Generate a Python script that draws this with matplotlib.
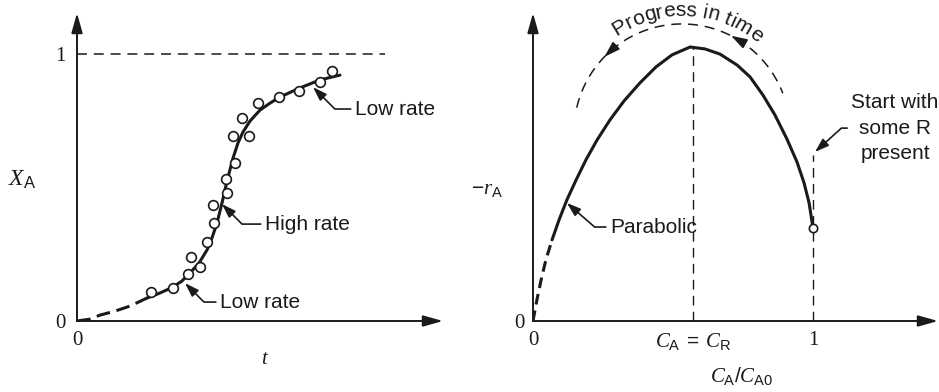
import numpy as np
import matplotlib
matplotlib.use("Agg")
import matplotlib.pyplot as plt

plt.rcParams['font.family'] = ['Liberation Sans', 'DejaVu Sans']
plt.rcParams['mathtext.fontset'] = 'custom'
plt.rcParams['mathtext.rm'] = 'Liberation Sans'
plt.rcParams['mathtext.it'] = 'Liberation Serif:italic'
plt.rcParams['mathtext.bf'] = 'Liberation Sans:bold'

INK = '#1a1a1a'
FS = 15

# ---------------- data (left panel: X_A vs t) ----------------
curve_t = [0, 0.426, 0.754, 1.246, 1.738, 2.295, 2.721, 3.148, 3.443, 3.705, 4.0,
           4.262, 4.426, 4.590, 4.754, 4.918, 5.115, 5.279, 5.443, 5.672, 6.0,
           6.328, 6.656, 7.311, 7.967, 8.623]
curve_x = [0, 0.007, 0.022, 0.037, 0.056, 0.086, 0.105, 0.127, 0.150, 0.180, 0.217,
           0.266, 0.311, 0.367, 0.442, 0.524, 0.610, 0.667, 0.708, 0.749, 0.790,
           0.816, 0.839, 0.873, 0.903, 0.921]
left_dashed_end = 6          # first points drawn dashed

pts_t = [2.426, 3.148, 3.639, 3.738, 4.033, 4.262, 4.492, 4.459, 4.918, 4.885,
         5.180, 5.115, 5.639, 5.410, 5.934, 6.623, 7.279, 7.967, 8.361]
pts_x = [0.109, 0.124, 0.176, 0.240, 0.202, 0.296, 0.367, 0.434, 0.479, 0.532,
         0.592, 0.693, 0.693, 0.760, 0.816, 0.839, 0.861, 0.895, 0.936]

left_xticks = [0]
left_xticklabels = ['0']
left_yticks = [0, 1]
left_yticklabels = ['0', '1']

# ---------------- data (right panel: -r_A vs C_A/C_A0) ----------------
rate_c = [0, 0.014, 0.029, 0.046, 0.068, 0.093, 0.121, 0.154, 0.189, 0.229, 0.275,
          0.325, 0.382, 0.439, 0.496, 0.561, 0.614, 0.668, 0.729, 0.775, 0.821,
          0.864, 0.907, 0.943, 0.968, 0.986, 1.0]
rate_r = [0, 0.077, 0.150, 0.223, 0.296, 0.369, 0.442, 0.515, 0.588, 0.661, 0.734,
          0.803, 0.869, 0.927, 0.971, 1.0, 0.993, 0.974, 0.934, 0.891, 0.825,
          0.752, 0.664, 0.580, 0.504, 0.431, 0.339]
right_dashed_end = 5
start_c, start_r = 1.0, 0.339
peak_c = 0.571
peak_r = 1.0
start_line_top = 0.606

right_xticks = [0, peak_c, 1]
right_xticklabels = ['0', r'$C_{\mathrm{A}}\;=\;C_{\mathrm{R}}$', '1']
right_yticks = [0]
right_yticklabels = ['0']

# ---------------- figure ----------------
W, H = 939, 392
fig = plt.figure(figsize=(W / 100, H / 100), dpi=100)
ax1 = fig.add_axes([77 / W, 71 / H, 366 / W, 308 / H])
ax2 = fig.add_axes([533 / W, 71 / H, 405 / W, 308 / H])
ax1.set_xlim(0, 12.0)
ax1.set_ylim(0, 1.1536)
ax2.set_xlim(0, 1.4464)
ax2.set_ylim(0, 1.1241)

for ax in (ax1, ax2):
    for s in ax.spines.values():
        s.set_visible(False)
    ax.patch.set_alpha(0)
    ax.tick_params(length=0, labelsize=FS, colors=INK)
    for arrow_xy in [(1, 0), (0, 1)]:
        ax.annotate('', xy=arrow_xy, xytext=(0, 0), xycoords='axes fraction',
                    textcoords='axes fraction',
                    arrowprops=dict(arrowstyle='-|>,head_length=1.0,head_width=0.28',
                                    lw=1.4, color=INK, shrinkA=0, shrinkB=0,
                                    mutation_scale=12))

tick_font = dict(family='Liberation Serif', size=FS)
ax1.set_xticks(left_xticks)
ax1.set_xticklabels(left_xticklabels, fontdict=tick_font)
ax1.set_yticks(left_yticks)
ax1.set_yticklabels(left_yticklabels, fontdict=tick_font)
ax1.tick_params(axis='x', pad=7)
ax1.tick_params(axis='y', pad=8)

ax2.set_xticks(right_xticks)
ax2.set_xticklabels(right_xticklabels, fontdict=tick_font)
ax2.set_yticks(right_yticks)
ax2.set_yticklabels(right_yticklabels, fontdict=tick_font)
ax2.tick_params(axis='x', pad=7)
ax2.tick_params(axis='y', pad=6)

# ---------------- left panel marks ----------------
ax1.axhline(1.0, xmin=0, xmax=10.1 / 12.0, color=INK, lw=1.1, dashes=(6.5, 4.5))
ax1.plot(curve_t[:left_dashed_end], curve_x[:left_dashed_end], color=INK, lw=2.2,
         dashes=(4.5, 2.2), solid_capstyle='butt')
ax1.plot(curve_t[left_dashed_end - 1:], curve_x[left_dashed_end - 1:], color=INK, lw=2.2,
         solid_capstyle='round')
ax1.plot(pts_t, pts_x, 'o', ms=7, mfc='white', mec=INK, mew=1.2, zorder=3)

arrow_kw = dict(arrowstyle='-|>,head_length=0.6,head_width=0.2', lw=1.2, color=INK,
                shrinkA=1, shrinkB=0, mutation_scale=14)


def label(ax, text, tip, anchor, angle_b, **kw):
    ax.annotate(text, xy=tip, xytext=anchor, ha=kw.pop('ha', 'left'), va='center',
                fontsize=FS, color=INK, annotation_clip=False,
                arrowprops=dict(connectionstyle=f'angle,angleA=0,angleB={angle_b},rad=0',
                                **arrow_kw), **kw)


label(ax1, 'Low rate', (3.541, 0.142), (4.69, 0.071), -45)
label(ax1, 'High rate', (4.754, 0.438), (6.16, 0.363), -45)
label(ax1, 'Low rate', (7.738, 0.876), (9.11, 0.794), -45)

# ---------------- right panel marks ----------------
ax2.plot(rate_c[:right_dashed_end], rate_r[:right_dashed_end], color=INK, lw=2.2,
         dashes=(3.5, 2.0), solid_capstyle='butt')
ax2.plot(rate_c[right_dashed_end - 1:], rate_r[right_dashed_end - 1:], color=INK, lw=2.2,
         solid_capstyle='round')
ax2.plot([peak_c, peak_c], [0, peak_r], color=INK, lw=1.0, dashes=(7, 4.5))
ax2.plot([start_c, start_c], [0, start_line_top], color=INK, lw=1.0, dashes=(7, 4.5))
ax2.plot([start_c], [start_r], 'o', ms=6, mfc='white', mec=INK, mew=1.2, zorder=3)

label(ax2, 'Parabolic', (0.121, 0.431), (0.275, 0.343), -41)
label(ax2, 'Start with\nsome R\npresent', (1.007, 0.617), (1.293, 0.704), 42,
      ha='center', multialignment='center', linespacing=1.45)

# ---- "Progress in time" arc with arrows and curved text ----
ARC_CX, ARC_CY = 0.532, 0.690    # arc centre in data units
ARC_R = 108                      # px
ARC_FROM, ARC_TO = -77, 69       # degrees from vertical
ARROW_ANGLES = [-46, 27]
TEXT_R = 116
TEXT_CENTER_DEG = 3.0
PHRASE = 'Progress in time'

cxd, cyd = ax2.transData.transform((ARC_CX, ARC_CY))
inv = ax2.transData.inverted()
th = np.radians(np.linspace(ARC_FROM, ARC_TO, 200))
arc = inv.transform(np.column_stack([cxd + ARC_R * np.sin(th), cyd + ARC_R * np.cos(th)]))
ax2.plot(arc[:, 0], arc[:, 1], color=INK, lw=1.1, dashes=(6.5, 4.5), clip_on=False)
for a in ARROW_ANGLES:
    ta, tb = np.radians(a), np.radians(a + 5)
    tip = inv.transform((cxd + ARC_R * np.sin(ta), cyd + ARC_R * np.cos(ta)))
    tail = inv.transform((cxd + ARC_R * np.sin(tb), cyd + ARC_R * np.cos(tb)))
    ax2.annotate('', xy=tip, xytext=tail, annotation_clip=False,
                 arrowprops=dict(arrowstyle='-|>,head_length=0.7,head_width=0.22',
                                 lw=1.1, color=INK, shrinkA=0, shrinkB=0, mutation_scale=14))

renderer = fig.canvas.get_renderer()


def text_width(s):
    t = fig.text(0, 0, s, fontsize=FS)
    w = t.get_window_extent(renderer).width
    t.remove()
    return w


base = text_width('xx')
widths = [text_width('x' + c + 'x') - base for c in PHRASE]
total = sum(widths)
pos = 0.0
for c, w in zip(PHRASE, widths):
    s_mid = pos + w / 2 - total / 2
    ang = np.radians(TEXT_CENTER_DEG) + s_mid / TEXT_R
    xy = inv.transform((cxd + TEXT_R * np.sin(ang), cyd + TEXT_R * np.cos(ang)))
    ax2.text(xy[0], xy[1], c, fontsize=FS, color=INK, ha='center', va='baseline',
             rotation=-np.degrees(ang), rotation_mode='anchor', clip_on=False)
    pos += w

# ---------------- axis labels ----------------
fig.text(22 / W, 1 - 180 / H, r'$X_{\mathrm{A}}$', ha='center', va='center', fontsize=17, color=INK)
fig.text(265 / W, 1 - 358 / H, r'$t$', ha='center', va='center', fontsize=15, color=INK)
fig.text(471 / W, 1 - 189 / H, r'$-r_{\mathrm{A}}$', ha='left', va='center', fontsize=15, color=INK)
fig.text(742 / W, 1 - 376 / H, r'$C_{\mathrm{A}}/C_{\mathrm{A0}}$', ha='center', va='center',
         fontsize=15, color=INK)

fig.savefig('out.png', dpi=100)
